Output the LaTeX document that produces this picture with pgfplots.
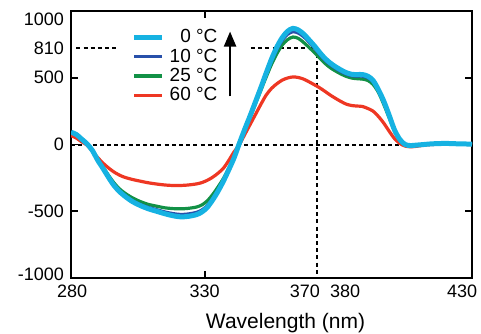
\documentclass[border=0pt]{standalone}
\usepackage{fontspec}
\setmainfont{Liberation Sans}
\usepackage{pgfplots}
\usepackage{pgfplotstable}
\pgfplotsset{compat=1.18}
\usetikzlibrary{arrows.meta}
\definecolor{cC}{RGB}{22,178,226}
\definecolor{cB}{RGB}{40,80,170}
\definecolor{cG}{RGB}{18,145,70}
\definecolor{cR}{RGB}{238,55,35}

\pgfplotstableread{
x y
280 92
282 75
284 40
286 5
288 -45
290 -118
292 -180
294 -245
296 -305
298 -350
300 -385
303 -428
306 -458
309 -482
312 -500
315 -518
318 -533
321 -542
324 -538
327 -525
329 -505
331 -470
333 -415
335 -350
337 -275
339 -190
341 -100
343 10
345 115
347 215
349 320
351 425
353 535
355 640
357 730
359 800
361 848
363 870
365 858
367 828
369 785
371 740
373 690
375 645
377 610
379 582
381 558
383 538
385 526
387 524
389 524
391 512
393 480
395 410
397 325
399 220
401 110
403 38
405 0
407 -8
409 -5
412 0
415 5
420 8
425 5
430 3
}\tabC

\pgfplotstableread{
x y
280 92
282 75
284 40
286 5
288 -44
290 -116
292 -177
294 -240
296 -300
298 -344
300 -378
303 -420
306 -450
309 -472
312 -488
315 -505
318 -517
321 -524
324 -520
327 -508
329 -490
331 -458
333 -405
335 -343
337 -270
339 -186
341 -97
343 10
345 112
347 210
349 315
351 418
353 525
355 625
357 712
359 780
361 825
363 845
365 835
367 808
369 768
371 725
373 676
375 632
377 598
379 570
381 546
383 527
385 515
387 512
389 512
391 500
393 470
395 403
397 320
399 216
401 108
403 36
405 0
407 -8
409 -5
412 0
415 5
420 8
425 5
430 3
}\tabB

\pgfplotstableread{
x y
280 90
282 73
284 38
286 4
288 -42
290 -112
292 -170
294 -230
296 -285
298 -330
300 -362
303 -400
306 -428
309 -449
312 -462
315 -474
318 -480
321 -482
324 -478
327 -468
329 -452
331 -422
333 -375
335 -318
337 -255
339 -178
341 -92
343 15
345 110
347 205
349 305
351 405
353 505
355 600
357 680
359 745
361 785
363 805
365 795
367 765
369 728
371 690
373 648
375 608
377 575
379 550
381 528
383 510
385 498
387 493
389 490
391 480
393 450
395 390
397 300
399 200
401 100
403 30
405 -3
407 -10
409 -6
412 0
415 3
420 6
425 4
430 2
}\tabG

\pgfplotstableread{
x y
280 67
282 48
284 20
286 -5
288 -50
290 -98
292 -140
294 -175
296 -205
298 -228
300 -245
303 -262
306 -275
309 -287
312 -296
315 -303
318 -307
321 -307
324 -303
327 -295
329 -285
331 -268
333 -245
335 -215
337 -178
339 -120
341 -55
343 0
345 75
347 150
349 225
351 300
353 370
355 420
357 455
359 482
361 498
363 506
365 502
367 490
369 470
371 448
373 425
375 398
377 370
379 345
381 322
383 302
385 292
387 288
389 285
391 270
393 250
395 210
397 160
399 100
401 45
403 8
405 -12
407 -17
409 -14
412 -5
415 0
420 3
425 2
430 0
}\tabR

\begin{document}
\begin{tikzpicture}
\begin{axis}[
  at={(35.5pt,27.5pt)}, anchor=south west,
  scale only axis, width=200.5pt, height=133.5pt,
  xmin=280, xmax=430, ymin=-1000, ymax=1000,
  axis line style={line width=1pt, black},
  tick style={line width=0.9pt, black},
  major tick length=3.5pt,
  tick align=inside,
  xtick={330}, xticklabels={330},
  ytick={-500,0,500}, yticklabels={-500,0,500},
  extra x ticks={280.4,367.5,382.5,426.3},
  extra x tick labels={280,370,380,430},
  extra y ticks={-974,724,936},
  extra y tick labels={-1000,810,1000},
  extra tick style={major tick length=0pt},
  ticklabel style={font=\fontsize{9}{9}\selectfont},
  /pgf/number format/assume math mode=true,
  xlabel={Wavelength (nm)},
  xlabel style={at={(axis description cs:0.535,0)}, anchor=north, yshift=-14pt, font=\fontsize{10.5}{10.5}\selectfont},
  legend style={draw=none, fill=none, at={(axis description cs:0.135,0.955)}, anchor=north west,
    font=\fontsize{9.5}{9.5}\selectfont,
    nodes={inner sep=0.6pt, text height=7pt, text depth=1.5pt}, row sep=0pt},
  legend cell align=right,
  legend image code/.code={\draw[#1] (0pt,0pt) -- (14pt,0pt); \path (16pt,0pt);},
  reverse legend,
]
\draw[black, line width=1pt, dash pattern=on 2pt off 1.6pt] (axis cs:280,0) -- (axis cs:430,0);
\draw[black, line width=1pt, dash pattern=on 2pt off 1.6pt] (axis cs:282,724) -- (axis cs:297.2,724);
\draw[black, line width=1pt, dash pattern=on 2pt off 1.6pt] (axis cs:347.3,724) -- (axis cs:372,724) -- (axis cs:372,-1000);
\addplot[cR, line width=1.6pt, smooth] table {\tabR};
\addlegendentry{60 °C}
\addplot[cG, line width=1.6pt, smooth] table {\tabG};
\addlegendentry{25 °C}
\addplot[cB, line width=1.6pt, smooth] table {\tabB};
\addlegendentry{10 °C}
\addplot[cC, line width=2.5pt, smooth] table {\tabC};
\addlegendentry{0 °C}
\draw[line width=0.9pt] (axis cs:380,-1000) -- ++(0pt,-3pt);
\draw[line width=1.1pt, -{Triangle[length=7.5pt,width=6pt]}] (axis cs:339.5,360) -- (axis cs:339.5,846);
\end{axis}
\pgfresetboundingbox
\path (0,0) rectangle (240.5pt,166.5pt);
\end{tikzpicture}
\end{document}
